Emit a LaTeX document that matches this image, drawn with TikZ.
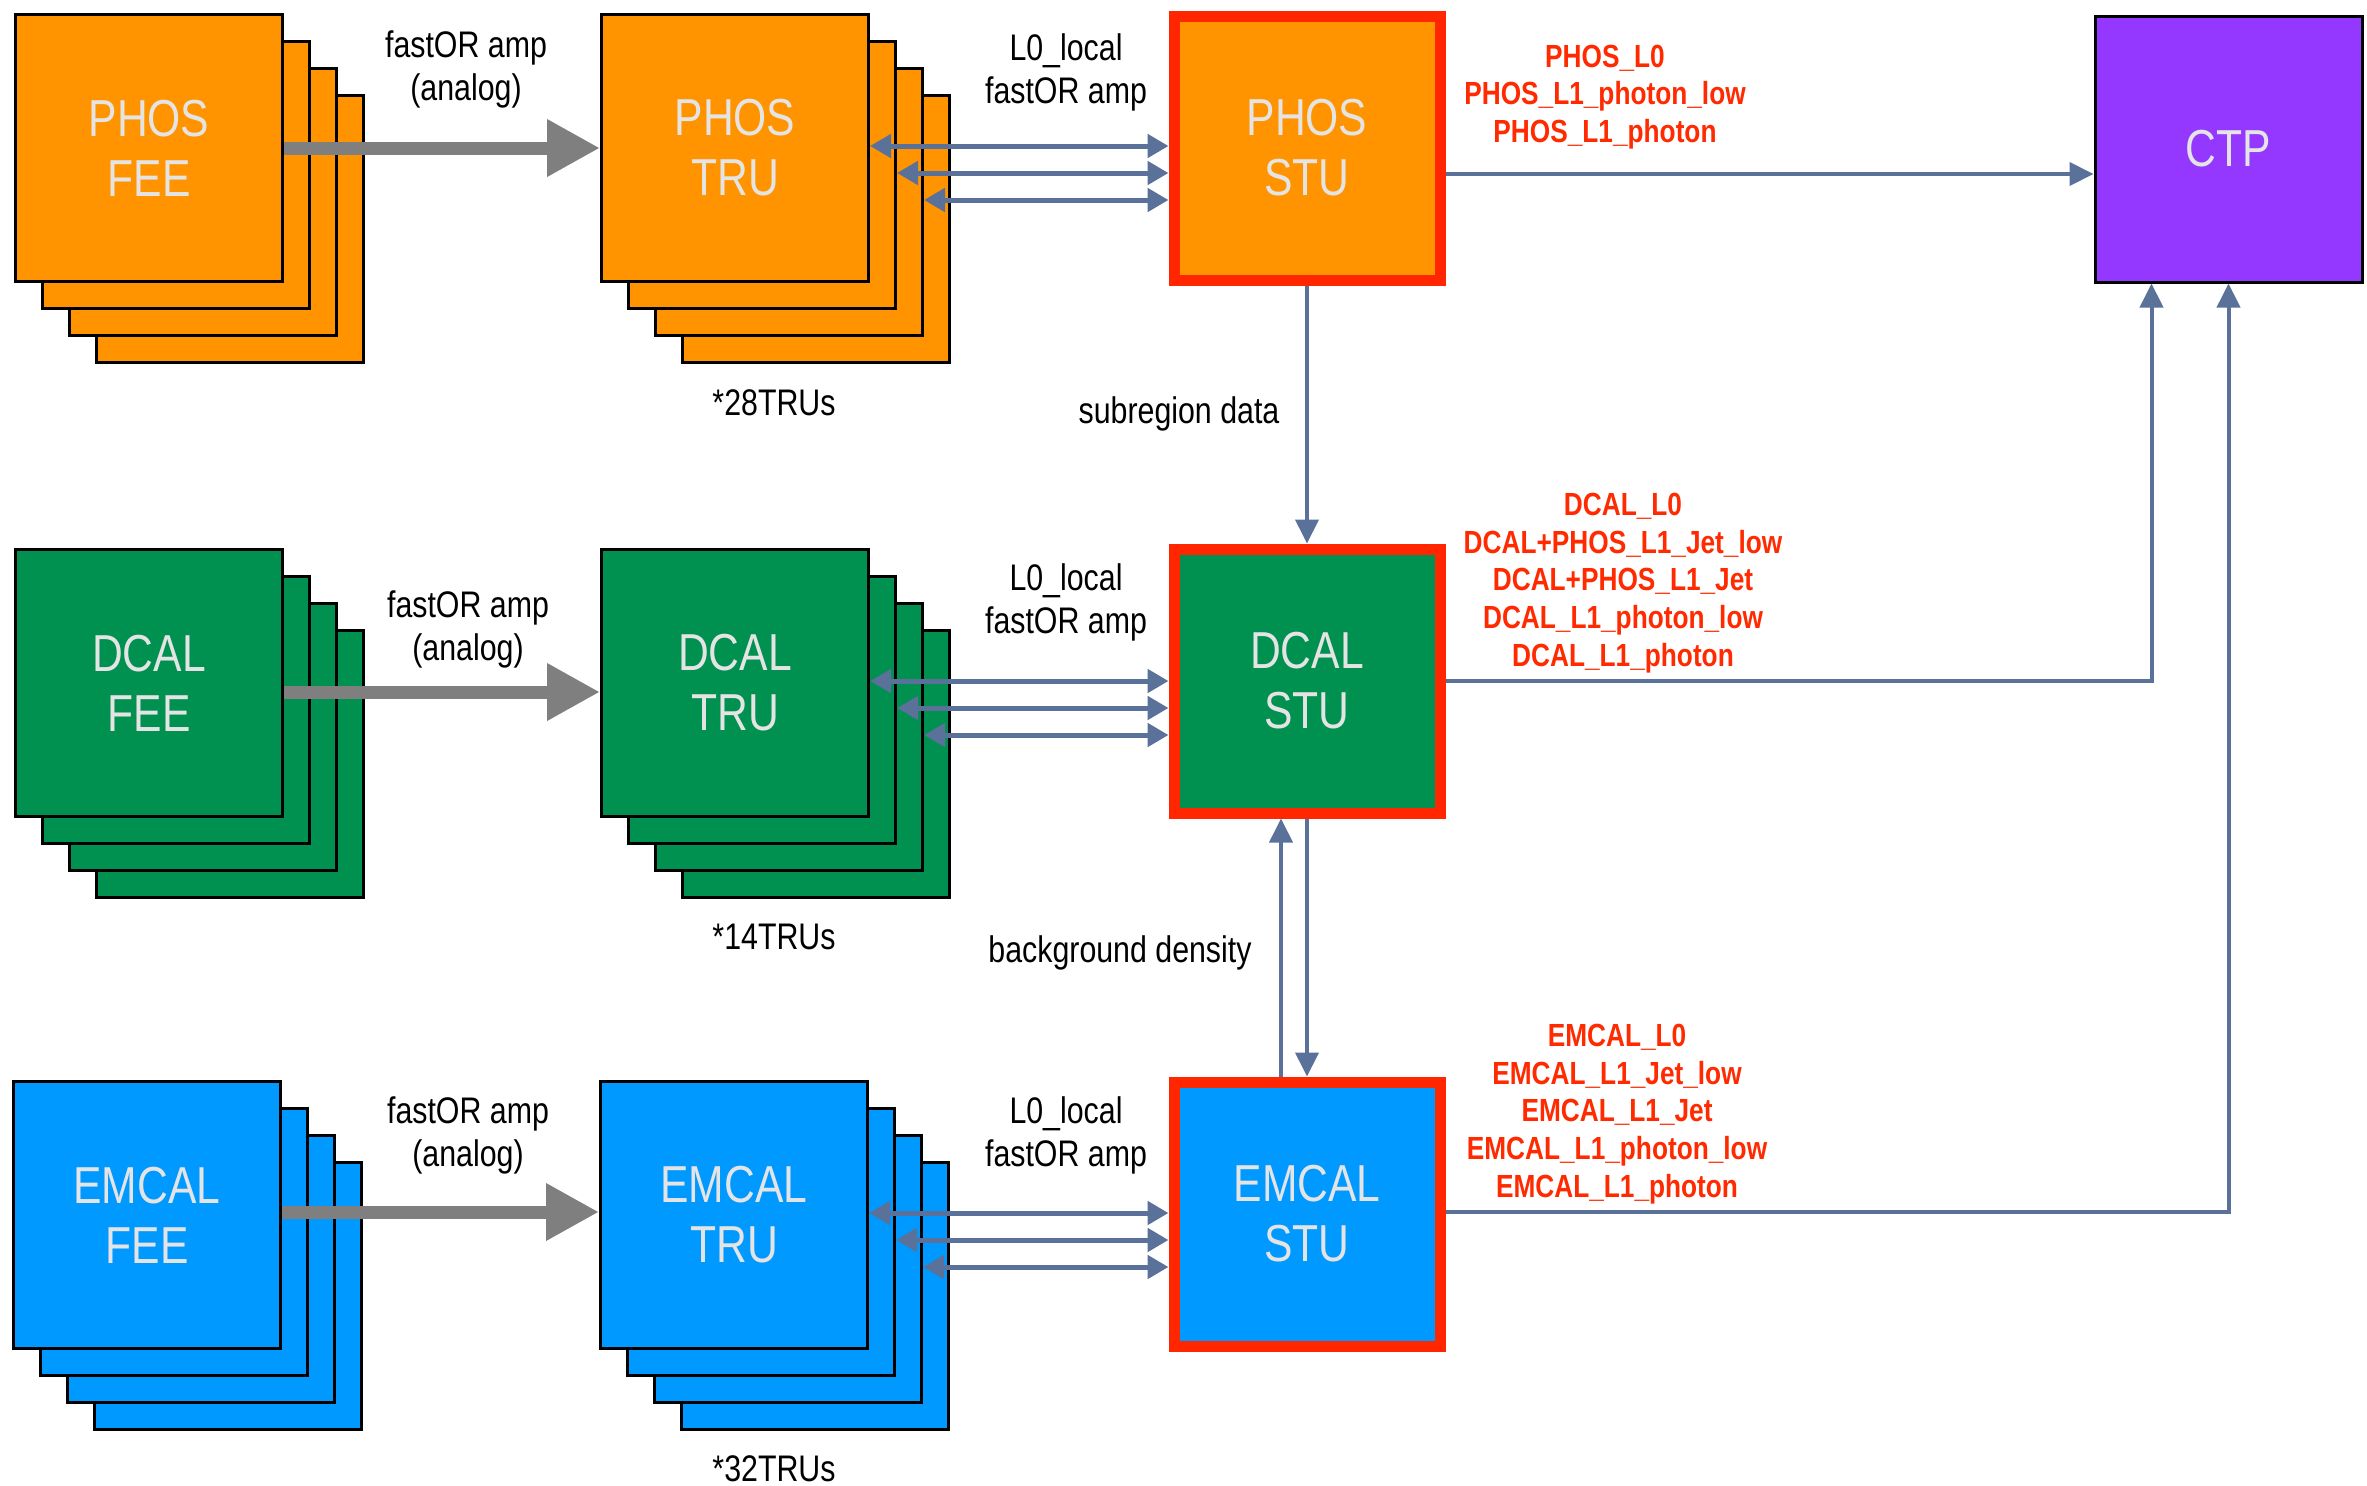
\documentclass[tikz,border=0pt]{standalone}
\usepackage{fontspec}
\newfontfamily\nar[FakeStretch=0.82]{Liberation Sans}
\usetikzlibrary{arrows.meta}

\definecolor{phosfill}{HTML}{FF9400}
\definecolor{dcalfill}{HTML}{00904F}
\definecolor{emcalfill}{HTML}{0099FF}
\definecolor{ctpfill}{HTML}{9538FF}
\definecolor{stured}{HTML}{FF2600}
\definecolor{trigred}{HTML}{FF2A00}
\definecolor{linkblue}{HTML}{5A7199}
\definecolor{graylink}{HTML}{7F7F7F}
\definecolor{labelgray}{HTML}{E4E4E4}

\newcommand\boxfont{\nar\fontsize{52}{60}\selectfont}
\newcommand\lblfont{\nar\fontsize{37}{43}\selectfont}
\newcommand\trigfont{\nar\bfseries\fontsize{32}{37.8}\selectfont}

% a front board with three boards stacked behind it
\newcommand\layerstack[5]{%
  \foreach \k in {3,2,1}{%
    \node[stackbox, fill=#4, anchor=north west] (#1\k) at ({#2+27*\k},{#3+27*\k}) {};}
  \node[stackbox, fill=#4, anchor=north west] (#1) at (#2,#3) {#5};
}

\begin{document}
\begin{tikzpicture}[x=1pt,y=-1pt,
  stackbox/.style={draw=black, line width=3pt, minimum width=267pt, minimum height=267pt,
    inner sep=0pt, align=center, text=labelgray, font=\boxfont},
  stubox/.style={draw=stured, line width=11pt, minimum width=266pt, minimum height=264pt,
    inner sep=0pt, align=center, text=labelgray, font=\boxfont},
  blacklabel/.style={font=\lblfont, align=center, text=black, inner sep=0pt},
  triglabel/.style={font=\trigfont, align=center, text=trigred, inner sep=0pt},
  feedarrow/.style={draw=graylink, line width=13pt, -{Triangle[length=53pt,width=54pt]}},
  linkarrow/.style={draw=linkblue, line width=4pt, -{Triangle[length=24pt,width=23pt]}},
  duplexarrow/.style={draw=linkblue, line width=5pt,
    {Triangle[length=21pt,width=23pt]}-{Triangle[length=21pt,width=23pt]}}
]
\fill[white] (0,0) rectangle (2367,1486);
\useasboundingbox (0,0) rectangle (2367,1486);

% front-end and trigger-region boards
\layerstack{phosfee}{14}{13}{phosfill}{PHOS\\FEE}
\layerstack{phostru}{600}{13}{phosfill}{PHOS\\TRU}
\layerstack{dcalfee}{14}{548}{dcalfill}{DCAL\\FEE}
\layerstack{dcaltru}{600}{548}{dcalfill}{DCAL\\TRU}
\layerstack{emcalfee}{12}{1080}{emcalfill}{EMCAL\\FEE}
\layerstack{emcaltru}{599}{1080}{emcalfill}{EMCAL\\TRU}

% summary trigger units and central trigger processor
\node[stubox, fill=phosfill] (phosstu) at (1307,148) {PHOS\\STU};
\node[stubox, fill=dcalfill] (dcalstu) at (1307,681) {DCAL\\STU};
\node[stubox, fill=emcalfill] (emcalstu) at (1307,1214) {EMCAL\\STU};
\node[stackbox, fill=ctpfill, minimum height=266pt] (ctp) at (2228.5,149) {CTP};

% analog fastOR sums from FEE to TRU
\draw[feedarrow] (phosfee.east) -- (phostru.west);
\draw[feedarrow] ([yshift=-9pt]dcalfee.east) -- ([yshift=-9pt]dcaltru.west);
\draw[feedarrow] ([yshift=3pt]emcalfee.east) -- ([yshift=3pt]emcaltru.west);

% TRU <-> STU links
\foreach \r in {phos,dcal,emcal}{
  \draw[duplexarrow] ([yshift=2pt]\r tru.east) -- ([yshift=2pt]\r tru.east -| \r stu.west);
  \draw[duplexarrow] ([yshift=2pt]\r tru1.east) -- ([yshift=2pt]\r tru1.east -| \r stu.west);
  \draw[duplexarrow] ([yshift=2pt]\r tru2.east) -- ([yshift=2pt]\r tru2.east -| \r stu.west);
}

% STU outputs to the CTP
\coordinate (phosout) at ([yshift=-26pt]phosstu.east);
\draw[linkarrow] (phosout) -- (phosout -| ctp.west);
\draw[linkarrow] (dcalstu.east) -| ([xshift=-77pt]ctp.south);
\draw[linkarrow] ([yshift=2pt]emcalstu.east) -| (ctp.south);

% data exchanged between the STUs
\draw[linkarrow] (phosstu.south) -- (dcalstu.north);
\draw[linkarrow] (dcalstu.south) -- (emcalstu.north);
\draw[linkarrow] ([xshift=-26pt]emcalstu.north) -- ([xshift=-26pt]dcalstu.south);

% connector labels
\node[blacklabel] (phosamp) at (466,69) {fastOR amp\\(analog)};
\node[blacklabel] (dcalamp) at (468,629) {fastOR amp\\(analog)};
\node[blacklabel] (emcalamp) at (468,1135) {fastOR amp\\(analog)};
\node[blacklabel] (phosl0) at (1066,72) {L0\_local\\fastOR amp};
\node[blacklabel] (dcall0) at (1066,602) {L0\_local\\fastOR amp};
\node[blacklabel] (emcall0) at (1066,1135) {L0\_local\\fastOR amp};
\node[blacklabel] (phoscount) at (774,403) {*28TRUs};
\node[blacklabel] (dcalcount) at (774,937) {*14TRUs};
\node[blacklabel] (emcalcount) at (774,1469) {*32TRUs};
\node[blacklabel] (subregion) at (1179,414) {subregion data};
\node[blacklabel] (bgdensity) at (1120,953) {background density};

% trigger outputs
\node[triglabel] (phostrig) at (1605,97) {PHOS\_L0\\PHOS\_L1\_photon\_low\\PHOS\_L1\_photon};
\node[triglabel] (dcaltrig) at (1623,583) {DCAL\_L0\\DCAL+PHOS\_L1\_Jet\_low\\DCAL+PHOS\_L1\_Jet\\DCAL\_L1\_photon\_low\\DCAL\_L1\_photon};
\node[triglabel] (emcaltrig) at (1617,1114) {EMCAL\_L0\\EMCAL\_L1\_Jet\_low\\EMCAL\_L1\_Jet\\EMCAL\_L1\_photon\_low\\EMCAL\_L1\_photon};
\end{tikzpicture}
\end{document}
